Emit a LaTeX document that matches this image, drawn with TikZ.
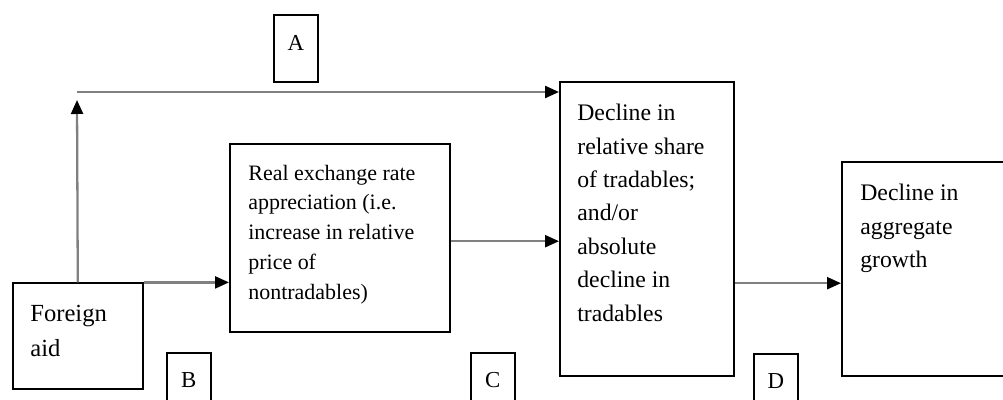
\documentclass[tikz,border=0pt]{standalone}
\usepackage{fontspec}
\setmainfont{Liberation Serif}
\usetikzlibrary{positioning, arrows.meta}

\begin{document}
\begin{tikzpicture} [box/.style={draw, line width=0.9pt, anchor=south west, inner sep=0},
  txt/.style={align=left, inner sep=0},
  tag/.style={draw, line width=0.9pt, minimum width=0.88cm, minimum height=1.34cm, inner sep=0,
    text depth=0.24cm, font=\fontsize{13}{15}\selectfont},
  flow/.style={draw=black!50, line width=1.3pt, -{Triangle[length=0.28cm, width=0.24cm, color=black]}}]
  \useasboundingbox (0,0) rectangle (20.06,8);

  \node[box, minimum width=2.6cm, minimum height=2.12cm] (aid) at (0.24,0.2) {};
  \node[txt, font=\fontsize{14}{20}\selectfont, below right=0.44cm and 0.36cm of aid.north west] {Foreign\\aid};

  \node[box, minimum width=4.4cm, minimum height=3.76cm] (real) at (4.58,1.34) {};
  \node[txt, font=\fontsize{12.5}{17}\selectfont, below right=0.42cm and 0.38cm of real.north west]
    {Real exchange rate\\appreciation (i.e.\\increase in relative\\price of\\nontradables)};

  \node[box, minimum width=3.48cm, minimum height=5.88cm] (dec) at (11.18,0.46) {};
  \node[txt, font=\fontsize{13.5}{19}\selectfont, below right=0.45cm and 0.36cm of dec.north west]
    {Decline in\\relative share\\of tradables;\\and/or\\absolute\\decline in\\tradables};

  \node[box, minimum width=4.4cm, minimum height=4.28cm] (grow) at (16.82,0.46) {};
  \node[txt, font=\fontsize{13.5}{19}\selectfont, below right=0.45cm and 0.38cm of grow.north west]
    {Decline in\\aggregate\\growth};

  % letters
  \node[tag, anchor=south west] (A) at (5.46,6.34) {A};
  \node[tag, anchor=north west] (B) at (3.32,0.96) {B};
  \node[tag, anchor=north west] (C) at (9.40,0.96) {C};
  \node[tag, anchor=north west] (D) at (15.06,0.94) {D};

  \coordinate (up) at (1.54,6.0);
  \coordinate (split) at (1.54,6.16);
  \draw[flow] (aid.north) -- (up);
  \draw[flow] (split) -- (split -| dec.west);
  \draw[flow] (aid.north east) -- (aid.north east -| real.west);
  \draw[flow] ([yshift=-0.06cm]real.east) -- ([yshift=-0.06cm]real.east -| dec.west);
  \draw[flow] ([yshift=-1.08cm]dec.east) -- ([yshift=-1.08cm]dec.east -| grow.west);
\end{tikzpicture}
\end{document}
